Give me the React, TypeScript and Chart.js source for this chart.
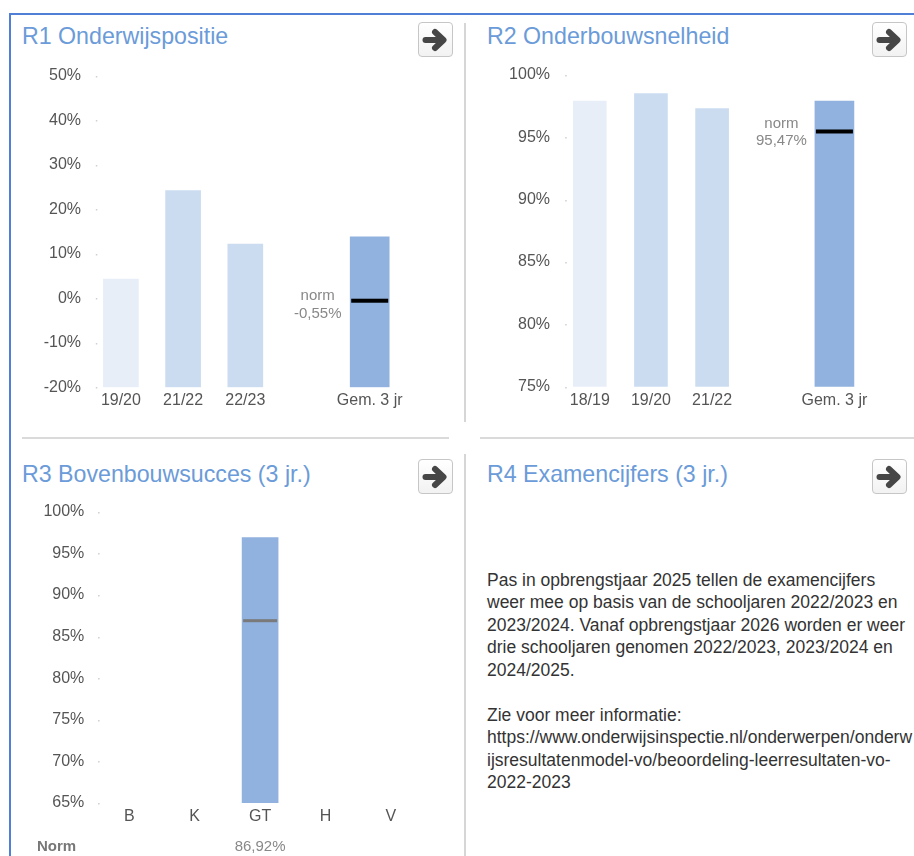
import React, { useEffect, useRef } from "react";
import { Chart, registerables } from "chart.js";

Chart.register(...registerables);

const FONT = "'Liberation Sans', Arial, Helvetica, sans-serif";
Chart.defaults.font.family = FONT;

// ---------- data ----------
const R1_TITLE = "R1 Onderwijspositie";
const R1_CATEGORIES = ["19/20", "21/22", "22/23", "", "Gem. 3 jr"];
const R1_YEARS = [4.3, 24.2, 12.2, null, null];
const R1_AVERAGE = [null, null, null, null, 13.8];
const R1_NORM = -0.55;
const R1_NORM_LABEL = ["norm", "-0,55%"];
const R1_MIN = -20;
const R1_MAX = 50;
const R1_STEP = 10;

const R2_TITLE = "R2 Onderbouwsnelheid";
const R2_CATEGORIES = ["18/19", "19/20", "21/22", "", "Gem. 3 jr"];
const R2_YEARS = [97.9, 98.5, 97.3, null, null];
const R2_AVERAGE = [null, null, null, null, 97.9];
const R2_NORM = 95.47;
const R2_NORM_LABEL = ["norm", "95,47%"];
const R2_MIN = 75;
const R2_MAX = 100;
const R2_STEP = 5;

const R3_TITLE = "R3 Bovenbouwsucces (3 jr.)";
const R3_CATEGORIES = ["B", "K", "GT", "H", "V"];
const R3_VALUES = [null, null, 96.9, null, null];
const R3_NORMS = [null, null, 86.92, null, null];
const R3_NORM_LABELS = ["", "", "86,92%", "", ""];
const R3_MIN = 65;
const R3_MAX = 100;
const R3_STEP = 5;

const R4_TITLE = "R4 Examencijfers (3 jr.)";
const R4_LINES = [
  "Pas in opbrengstjaar 2025 tellen de examencijfers",
  "weer mee op basis van de schooljaren 2022/2023 en",
  "2023/2024. Vanaf opbrengstjaar 2026 worden er weer",
  "drie schooljaren genomen 2022/2023, 2023/2024 en",
  "2024/2025.",
  "",
  "Zie voor meer informatie:",
  "https://www.onderwijsinspectie.nl/onderwerpen/onderw",
  "ijsresultatenmodel-vo/beoordeling-leerresultaten-vo-",
  "2022-2023",
];

// ---------- styles ----------
const YEAR_COLORS = ["#e8eef8", "#cbdcf0", "#cbdcf0", "#cbdcf0", "#cbdcf0"];
const AVG_COLOR = "#91b1de";
const TITLE_COLOR = "#6b9bd8";
const TICK_COLOR = "#555555";

function tickDots(dx: number) {
  return {
    id: "tickDots",
    afterDraw(chart: any) {
      const ctx = chart.ctx;
      const y = chart.scales.y;
      ctx.save();
      ctx.fillStyle = "#cfcfcf";
      y.ticks.forEach((t: any) => {
        const py = y.getPixelForValue(t.value);
        ctx.fillRect(chart.chartArea.left + dx, Math.round(py), 1.5, 1.5);
      });
      ctx.restore();
    },
  };
}

function normPlugin(
  index: number,
  value: number,
  halfWidth: number,
  label: string[],
  labelDx: number,
  labelDy: number,
  labelGap: number
) {
  return {
    id: "normLine",
    afterDatasetsDraw(chart: any) {
      const ctx = chart.ctx;
      const cx = chart.scales.x.getPixelForValue(index);
      const py = chart.scales.y.getPixelForValue(value);
      ctx.save();
      ctx.fillStyle = "#000000";
      ctx.fillRect(cx - halfWidth, py - 2, halfWidth * 2, 4);
      ctx.fillStyle = "#888888";
      ctx.font = `15px ${FONT}`;
      ctx.textAlign = "center";
      ctx.textBaseline = "middle";
      label.forEach((s, i) => {
        ctx.fillText(s, cx + labelDx, py + labelDy + i * labelGap);
      });
      ctx.restore();
    },
  };
}

function r3NormPlugin() {
  return {
    id: "r3Norm",
    afterDatasetsDraw(chart: any) {
      const ctx = chart.ctx;
      const xs = chart.scales.x;
      const ys = chart.scales.y;
      ctx.save();
      R3_NORMS.forEach((v, i) => {
        if (v == null) return;
        const cx = xs.getPixelForValue(i);
        const py = ys.getPixelForValue(v);
        ctx.fillStyle = "#7a7a7a";
        ctx.fillRect(cx - 17, py - 1.5, 34, 3);
      });
      ctx.fillStyle = "#888888";
      ctx.font = `15px ${FONT}`;
      ctx.textAlign = "center";
      ctx.textBaseline = "middle";
      R3_NORM_LABELS.forEach((s, i) => {
        if (!s) return;
        ctx.fillText(s, xs.getPixelForValue(i), chart.chartArea.bottom + 44);
      });
      ctx.restore();
    },
  };
}

function barConfig(o: any) {
  return {
    type: "bar",
    data: { labels: o.categories, datasets: o.datasets },
    options: {
      responsive: false,
      maintainAspectRatio: false,
      animation: false,
      layout: { padding: o.padding },
      plugins: { legend: { display: false }, tooltip: { enabled: false } },
      scales: {
        x: {
          grid: { display: false, drawTicks: false },
          border: { display: false },
          ticks: {
            color: TICK_COLOR,
            font: { size: 16 },
            padding: 4,
            autoSkip: false,
            maxRotation: 0,
          },
          afterFit: (s: any) => {
            s.height = 30;
          },
        },
        y: {
          min: o.min,
          max: o.max,
          grid: { display: false, drawTicks: false },
          border: { display: false },
          ticks: {
            stepSize: o.step,
            color: TICK_COLOR,
            font: { size: 16 },
            padding: o.tickPad,
            callback: (v: any) => v + "%",
          },
          afterFit: (s: any) => {
            s.width = o.yAxisWidth;
          },
        },
      },
    },
    plugins: o.plugins,
  };
}

function ChartBox({ left, top, width, height, make }: any) {
  const ref = useRef<HTMLCanvasElement>(null);
  useEffect(() => {
    const chart = new Chart(ref.current as HTMLCanvasElement, make());
    return () => chart.destroy();
  }, []);
  return (
    <canvas
      ref={ref}
      width={width}
      height={height}
      style={{ position: "absolute", left, top, width, height }}
    />
  );
}

function Title({ left, top, text }: any) {
  return (
    <div
      style={{
        position: "absolute",
        left,
        top,
        fontSize: 23.2,
        lineHeight: "23px",
        color: TITLE_COLOR,
        fontFamily: FONT,
        whiteSpace: "nowrap",
      }}
    >
      {text}
    </div>
  );
}

function ArrowButton({ left, top }: any) {
  return (
    <div
      style={{
        position: "absolute",
        left,
        top,
        width: 33,
        height: 33,
        border: "1px solid #c6c6c6",
        borderRadius: 4,
        background: "linear-gradient(#ffffff, #f2f2f2)",
      }}
    >
      <svg width="33" height="33" viewBox="0 0 33 33" style={{ display: "block" }}>
        <line x1="6.5" y1="17" x2="23" y2="17" stroke="#464646" strokeWidth="6" strokeLinecap="round" />
        <polyline
          points="16,9 24.5,17 16,25"
          fill="none"
          stroke="#464646"
          strokeWidth="6"
          strokeLinecap="round"
          strokeLinejoin="round"
        />
      </svg>
    </div>
  );
}

function Line({ left, top, width, height, color }: any) {
  return <div style={{ position: "absolute", left, top, width, height, background: color }} />;
}

export default function App() {
  const makeR1 = () =>
    barConfig({
      categories: R1_CATEGORIES,
      min: R1_MIN,
      max: R1_MAX,
      step: R1_STEP,
      yAxisWidth: 69.8,
      tickPad: 8.8,
      padding: { top: 20.7, right: 19.2, bottom: 7.7, left: 0 },
      datasets: [
        { data: R1_YEARS, backgroundColor: YEAR_COLORS, barThickness: 35, grouped: false, base: R1_MIN },
        { data: R1_AVERAGE, backgroundColor: AVG_COLOR, barThickness: 39, grouped: false, base: R1_MIN },
      ],
      plugins: [tickDots(6), normPlugin(4, R1_NORM, 18.5, R1_NORM_LABEL, -52, -4.5, 18)],
    });

  const makeR2 = () =>
    barConfig({
      categories: R2_CATEGORIES,
      min: R2_MIN,
      max: R2_MAX,
      step: R2_STEP,
      yAxisWidth: 79.2,
      tickPad: 9.2,
      padding: { top: 20, right: 20, bottom: 8.3, left: 0 },
      datasets: [
        { data: R2_YEARS, backgroundColor: YEAR_COLORS, barThickness: 33, grouped: false, base: R2_MIN },
        { data: R2_AVERAGE, backgroundColor: AVG_COLOR, barThickness: 39, grouped: false, base: R2_MIN },
      ],
      plugins: [tickDots(6), normPlugin(4, R2_NORM, 18.5, R2_NORM_LABEL, -53, -8, 17)],
    });

  const makeR3 = () =>
    barConfig({
      categories: R3_CATEGORIES,
      min: R3_MIN,
      max: R3_MAX,
      step: R3_STEP,
      yAxisWidth: 76.6,
      tickPad: 12.3,
      padding: { top: 21.7, right: 26.4, bottom: 23, left: 0 },
      datasets: [
        { data: R3_VALUES, backgroundColor: AVG_COLOR, barThickness: 36, grouped: false, base: R3_MIN },
      ],
      plugins: [tickDots(1.5), r3NormPlugin()],
    });

  return (
    <div style={{ position: "absolute", left: 0, top: 0, width: 914, height: 856, overflow: "hidden", background: "#fff", fontFamily: FONT }}>
      {/* outer blue frame */}
      <Line left={9} top={13} width={905} height={2} color="#4f7fd6" />
      <Line left={9} top={13} width={2} height={843} color="#4f7fd6" />

      {/* dividers */}
      <Line left={464} top={23} width={2} height={399} color="#d6d6d6" />
      <Line left={464} top={454} width={2} height={402} color="#d6d6d6" />
      <Line left={22} top={437} width={427} height={2} color="#dadada" />
      <Line left={480} top={437} width={434} height={2} color="#dadada" />

      {/* R1 */}
      <Title left={22} top={25} text={R1_TITLE} />
      <ArrowButton left={418} top={22} />
      <ChartBox left={20} top={55} width={400} height={370} make={makeR1} />

      {/* R2 */}
      <Title left={487} top={25} text={R2_TITLE} />
      <ArrowButton left={872} top={22} />
      <ChartBox left={480} top={55} width={405} height={370} make={makeR2} />

      {/* R3 */}
      <Title left={22} top={462.5} text={R3_TITLE} />
      <ArrowButton left={418} top={459} />
      <ChartBox left={20} top={490} width={430} height={366} make={makeR3} />
      <div
        style={{
          position: "absolute",
          left: 37,
          top: 837.6,
          fontSize: 15,
          lineHeight: "15px",
          fontWeight: "bold",
          color: "#777",
        }}
      >
        Norm
      </div>

      {/* R4 */}
      <Title left={487} top={462.5} text={R4_TITLE} />
      <ArrowButton left={872} top={459} />
      <div
        style={{
          position: "absolute",
          left: 487,
          top: 568.5,
          fontSize: 17.5,
          lineHeight: "22.5px",
          color: "#333",
          whiteSpace: "pre",
        }}
      >
        {R4_LINES.map((l, i) => (
          <div key={i}>{l === "" ? "\u00a0" : l}</div>
        ))}
      </div>
    </div>
  );
}
